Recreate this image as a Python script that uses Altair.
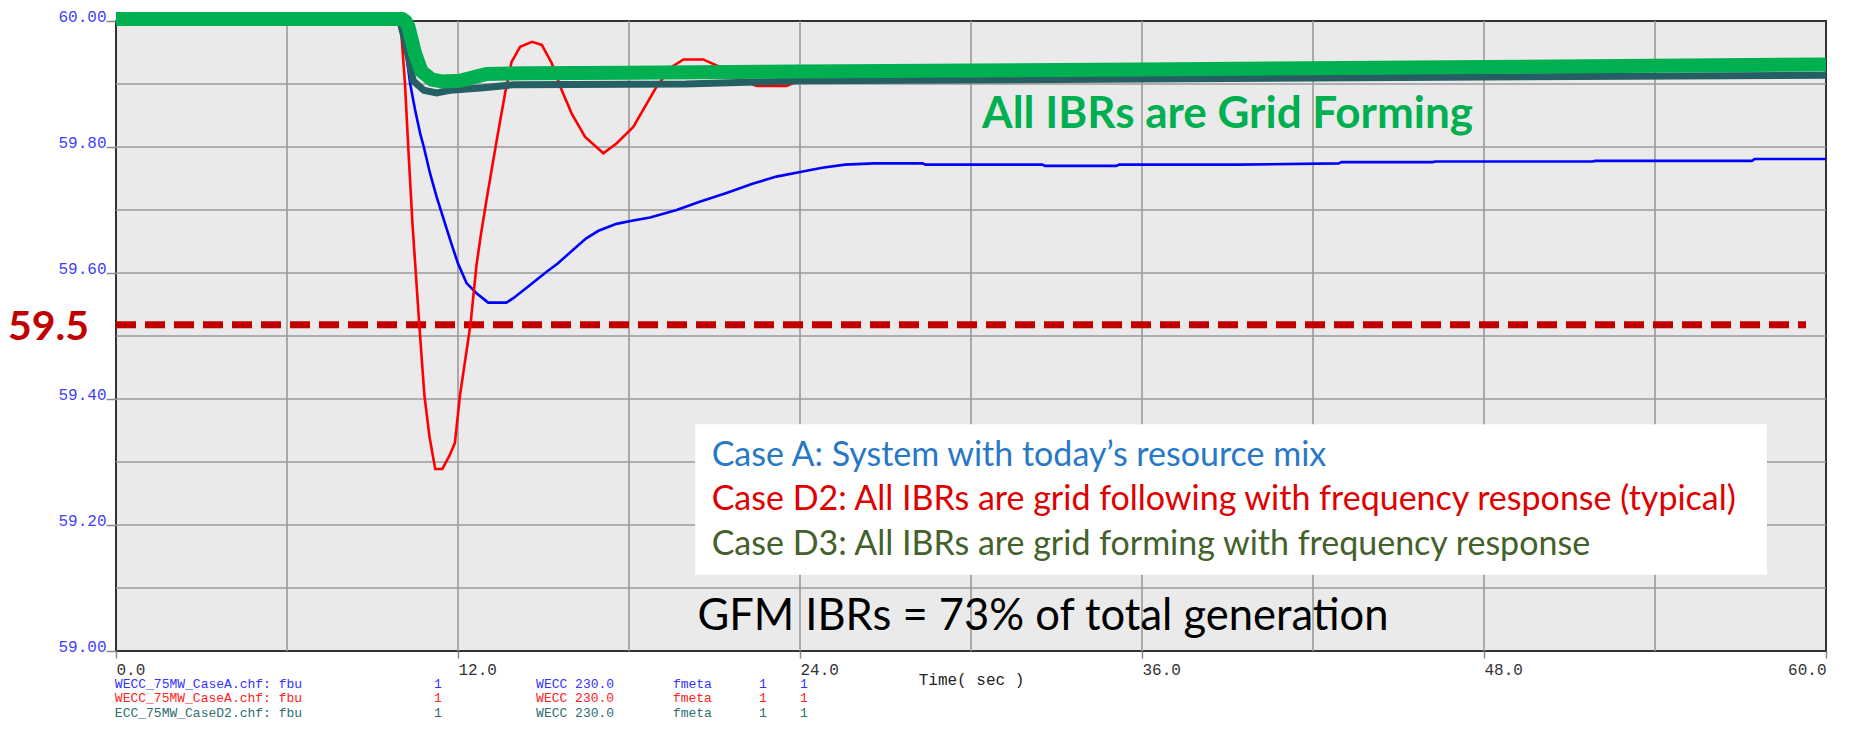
import altair as alt
import pandas as pd

# ---------------- data ----------------
# Case A: System with today's resource mix (blue)
caseA_t = [0, 10.0, 10.15, 10.32, 10.49, 10.67, 10.8, 11.02, 11.25, 11.59, 11.78, 12.0, 12.3, 12.65,
           13.06, 13.7, 13.94, 14.53, 15.11, 15.5, 16.04, 16.5, 16.93, 17.56, 18.1, 18.74, 19.67,
           20.48, 21.42, 22.36, 23.17, 24.1, 24.78, 25.58, 26.6, 28.3, 28.4, 32.5, 32.6, 35.1, 35.2,
           39.4, 42.9, 43.0, 46.2, 46.3, 51.8, 51.9, 57.4, 57.5, 60.0]
caseA_f = [60.0, 60.0, 59.96, 59.901, 59.86, 59.822, 59.80, 59.758, 59.721, 59.672, 59.645, 59.615,
           59.584, 59.568, 59.553, 59.553, 59.56, 59.581, 59.602, 59.615, 59.637, 59.655, 59.667,
           59.678, 59.683, 59.688, 59.70, 59.713, 59.727, 59.742, 59.753, 59.761, 59.767, 59.772,
           59.774, 59.774, 59.772, 59.772, 59.770, 59.770, 59.772, 59.772, 59.774, 59.776, 59.776,
           59.777, 59.777, 59.778, 59.778, 59.781, 59.781]

# Case D2: grid following (red)
caseD2_t = [0, 10.0, 10.02, 10.14, 10.26, 10.40, 10.64, 10.82, 11.0, 11.2, 11.45, 11.7, 11.89, 12.07,
            12.44, 12.65, 12.8, 13.0, 13.36, 13.65, 13.88, 14.18, 14.6, 14.94, 15.29, 15.64, 15.99,
            16.46, 17.1, 17.57, 18.15, 18.97, 19.5, 19.91, 20.6, 21.19, 21.78, 22.48, 23.53, 23.88,
            30.0, 40.0, 60.0]
caseD2_f = [60.0, 60.0, 59.975, 59.90, 59.795, 59.68, 59.519, 59.406, 59.34, 59.289, 59.289, 59.31,
            59.33, 59.406, 59.519, 59.613, 59.66, 59.716, 59.811, 59.885, 59.935, 59.959, 59.967,
            59.962, 59.933, 59.89, 59.853, 59.816, 59.79, 59.806, 59.832, 59.896, 59.927, 59.939,
            59.939, 59.927, 59.909, 59.897, 59.897, 59.904, 59.908, 59.910, 59.913]

# Case D3: grid forming (dark teal)
caseD3_t = [0, 9.96, 10.1, 10.25, 10.43, 10.8, 11.25, 11.72, 12.9, 14.0, 20.0, 24.0, 36.0, 48.0, 60.0]
caseD3_f = [60.0, 60.0, 59.975, 59.945, 59.905, 59.89, 59.886, 59.89, 59.894, 59.899, 59.90, 59.905,
            59.908, 59.911, 59.914]

# Green highlight drawn over Case D3
highlight_t = [0, 10.05, 10.15, 10.26, 10.49, 10.72, 11.08, 11.43, 12.07, 12.65, 13.0, 14.4, 17.97,
               23.95, 36.0, 48.0, 60.0]
highlight_f = [60.003, 60.003, 60.0, 59.991, 59.949, 59.92, 59.907, 59.904, 59.905, 59.912, 59.916,
               59.917, 59.918, 59.92, 59.923, 59.927, 59.931]

x_ticks = [0, 12, 24, 36, 48, 60]
y_ticks = [59.0, 59.2, 59.4, 59.6, 59.8, 60.0]
x_grid = [6, 12, 18, 24, 30, 36, 42, 48, 54]
y_grid = [59.1, 59.2, 59.3, 59.4, 59.5, 59.6, 59.7, 59.8, 59.9]

limit_value = 59.518
limit_label = "59.5"
title_green = "All IBRs are Grid Forming"
legend_lines = [
    "Case A: System with today\u2019s resource mix",
    "Case D2: All IBRs are grid following with frequency response (typical)",
    "Case D3: All IBRs are grid forming with frequency response",
]
gfm_note = "GFM IBRs = 73% of total generation"
file_rows = [
    ["WECC_75MW_CaseA.chf: fbu", "1", "WECC 230.0", "fmeta", "1", "1"],
    ["WECC_75MW_CaseA.chf: fbu", "1", "WECC 230.0", "fmeta", "1", "1"],
    ["ECC_75MW_CaseD2.chf: fbu", "1", "WECC 230.0", "fmeta", "1", "1"],
]

# ---------------- build tables ----------------
def series(t, f):
    return pd.DataFrame({"t": t, "f": f})

dfA = series(caseA_t, caseA_f)
dfD2 = series(caseD2_t, caseD2_f)
dfD3 = series(caseD3_t, caseD3_f)
dfH = series(highlight_t, highlight_f)

X = alt.Scale(domain=[0, 60], nice=False, zero=False)
Y = alt.Scale(domain=[59.0, 60.0], nice=False, zero=False)

xenc = alt.X("t:Q", scale=X, axis=alt.Axis(
    values=x_ticks, format=".1f", grid=False, domain=False,
    tickSize=7, tickColor="#8a8a8a", tickWidth=1.5,
    labelFont="Liberation Mono", labelFontSize=16, labelColor="#333333",
    labelAlign={"condition": {"test": "datum.value >= 60", "value": "right"}, "value": "left"},
    labelBaseline="top", labelPadding=3,
    title="Time( sec )", titleFont="Liberation Mono", titleFontSize=16,
    titleFontWeight="normal", titleColor="#222222", titleY=28, titleBaseline="middle"))
yenc = alt.Y("f:Q", scale=Y, axis=alt.Axis(
    values=y_ticks, format=".2f", grid=False, domain=False,
    tickSize=10, tickColor="#8a8a8a", tickWidth=1.5,
    labelFont="Liberation Mono", labelFontSize=16, labelColor="#3F3FFF",
    labelBaseline="alphabetic", labelPadding=0, title=None))

base_x = alt.X("t:Q", scale=X)
base_y = alt.Y("f:Q", scale=Y)

vgrid = alt.Chart(pd.DataFrame({"t": x_grid})).mark_rule(color="#9a9a9a", strokeWidth=1.6).encode(x=xenc)
hgrid = alt.Chart(pd.DataFrame({"f": y_grid})).mark_rule(color="#9a9a9a", strokeWidth=1.6).encode(y=yenc)

legend_box = alt.Chart(pd.DataFrame({"t": [20.32], "t2": [57.93], "f": [59.360], "f2": [59.121]})).mark_rect(
    color="white").encode(x=base_x, x2="t2:Q", y=base_y, y2="f2:Q")

limit = alt.Chart(pd.DataFrame({"t": [0], "t2": [59.3], "f": [limit_value]})).mark_rule(
    color="#C00000", strokeWidth=7, strokeDash=[20, 9]).encode(x=base_x, x2="t2:Q", y=base_y)

lineA = alt.Chart(dfA).mark_line(color="#0000FF", strokeWidth=2.6).encode(x=base_x, y=base_y, order="t:Q")
lineD2 = alt.Chart(dfD2).mark_line(color="#FF0000", strokeWidth=2.6).encode(x=base_x, y=base_y, order="t:Q")
lineD3 = alt.Chart(dfD3).mark_line(color="#255F63", strokeWidth=7).encode(x=base_x, y=base_y, order="t:Q")
lineH = alt.Chart(dfH).mark_line(color="#00B050", strokeWidth=14, strokeJoin="round").encode(
    x=base_x, y=base_y, order="t:Q")

def text_layer(df, **kw):
    return alt.Chart(df).mark_text(**kw).encode(x=base_x, y=base_y, text="label:N")

green_txt = text_layer(pd.DataFrame({"t": [30.39], "f": [59.830], "label": [title_green]}),
                       align="left", baseline="alphabetic", font="Lato", fontSize=44,
                       fontWeight="bold", color="#00B050")
leg_colors = ["#2878C8", "#E00000", "#44612C"]
leg_f = [59.2937, 59.2238, 59.1524]
leg_layers = [text_layer(pd.DataFrame({"t": [20.9], "f": [leg_f[i]], "label": [legend_lines[i]]}),
                         align="left", baseline="alphabetic", font="Lato", fontSize=34,
                         color=leg_colors[i]) for i in range(3)]
gfm_txt = text_layer(pd.DataFrame({"t": [20.4], "f": [59.0333], "label": [gfm_note]}),
                     align="left", baseline="alphabetic", font="Lato", fontSize=43.5, color="#000000")
limit_txt = text_layer(pd.DataFrame({"t": [-0.947], "f": [59.4937], "label": [limit_label]}),
                       align="right", baseline="alphabetic", font="Lato", fontSize=41,
                       fontWeight="bold", color="#C00000")

col_t = [-0.04, 11.16, 14.74, 19.54, 22.56, 24.0]
row_f = [58.9413, 58.9183, 58.8952]
row_colors = ["#3333FF", "#FF2020", "#2E6E6E"]
file_layers = []
for r in range(3):
    d = pd.DataFrame({"t": col_t, "f": [row_f[r]] * 6, "label": file_rows[r]})
    file_layers.append(text_layer(d, align="left", baseline="alphabetic", font="Liberation Mono",
                                  fontSize=13, color=row_colors[r]))

chart = alt.layer(
    vgrid, hgrid, legend_box, limit, lineA, lineD2, lineD3, lineH,
    green_txt, *leg_layers, gfm_txt, limit_txt, *file_layers
).properties(
    width=1710, height=630,
    padding={"left": 108, "top": 13, "right": 16, "bottom": 72},
    autosize=alt.AutoSizeParams(type="none"),
    background="white",
).configure_view(fill="#EAEAEA", stroke="#333333", strokeWidth=2)

chart.save("out.html", embed_options={"renderer": "svg", "actions": False})
